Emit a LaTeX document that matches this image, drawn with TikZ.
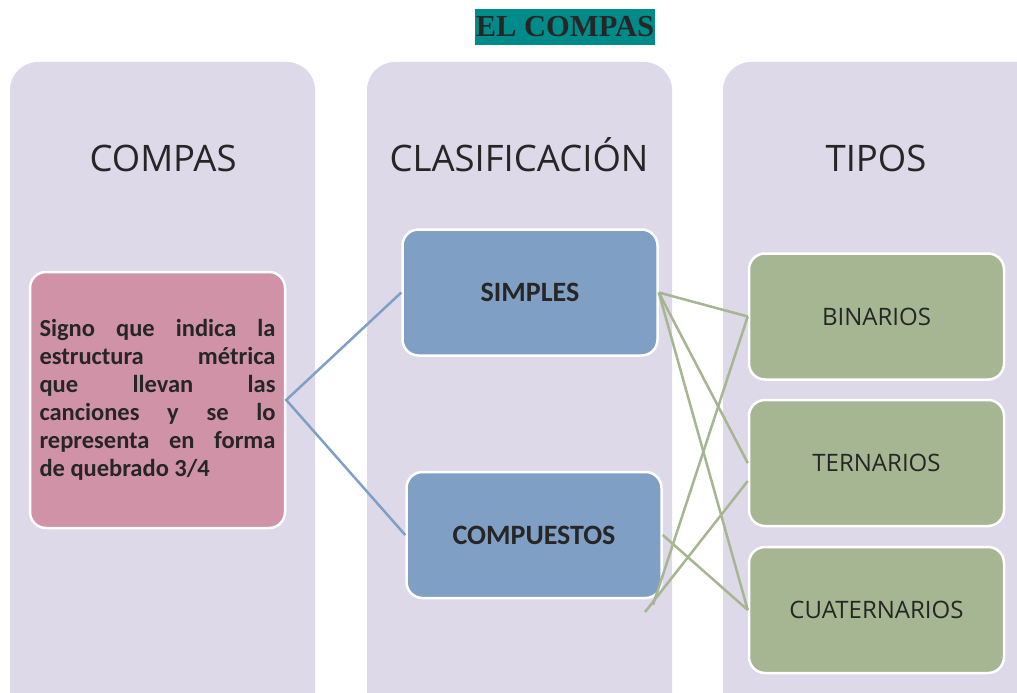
\documentclass[tikz,border=0pt]{standalone}
\usepackage{fontspec}
\setmainfont{Open Sans}
\newfontfamily\titlefont{Liberation Serif}
\newfontfamily\boxfont{Carlito}
\definecolor{lilac}{HTML}{DDD9E8}
\definecolor{tealtitle}{HTML}{008B8B}
\definecolor{pinkfill}{HTML}{D092A7}
\definecolor{bluefill}{HTML}{809FC5}
\definecolor{greenfill}{HTML}{A6B592}
\definecolor{inkgray}{HTML}{262626}

\begin{document}
\begin{tikzpicture} [x=1pt, y=-1pt,
    colbg/.style={fill=lilac, rounded corners=28pt},
    head/.style={font=\fontsize{36.5}{42}\selectfont, text=inkgray, anchor=base},
    box/.style={draw=white, line width=2.5pt, rounded corners=16pt, minimum width=255pt, minimum height=126pt, text=inkgray},
    pinkbox/.style={box, fill=pinkfill, minimum height=256pt, text width=236pt, align=justify, font=\boxfont\bfseries\fontsize{24.5}{28}\selectfont},
    bluebox/.style={box, fill=bluefill, font=\boxfont\bfseries\fontsize{28}{32}\selectfont},
    greenbox/.style={box, fill=greenfill, font=\fontsize{24}{28}\selectfont},
    blueline/.style={draw=bluefill, line width=2.5pt},
    greenline/.style={draw=greenfill, line width=2.5pt}
  ]

\clip (0,0) rectangle (1017,693);
\useasboundingbox (0,0) rectangle (1017,693);

% columns
\fill[colbg] (10,62) rectangle (315,730);
\fill[colbg] (367,62) rectangle (672,730);
\fill[colbg] (723,62) rectangle (1060,730);

\node[fill=tealtitle, text=inkgray, inner sep=0pt, minimum width=180pt, minimum height=36pt, font=\titlefont\bfseries\fontsize{30.5}{36}\selectfont] (title) at (565,27) {EL COMPAS};

\node[head] (hcompas) at (163,171) {COMPAS};
\node[head] (hclasif) at (519,171) {CLASIFICACIÓN};
\node[head] (htipos) at (876,171) {TIPOS};

\node[pinkbox] (signo) at (157.5,400) {Signo que indica la\linebreak estructura métrica\linebreak que llevan las\linebreak canciones y se lo\linebreak representa en forma\linebreak de quebrado 3/4};

\node[bluebox] (simples) at (530,292.5) {SIMPLES};
\node[bluebox] (compuestos) at (534,535) {COMPUESTOS};

\node[greenbox] (binarios) at (876.5,316.5) {BINARIOS};
\node[greenbox] (ternarios) at (876.5,463) {TERNARIOS};
\node[greenbox] (cuaternarios) at (876.5,610) {CUATERNARIOS};

\coordinate (endb) at (653,605);
\coordinate (endt) at (645,612);

\draw[blueline] (simples.west) -- (signo.east) -- (compuestos.west);

\draw[greenline] (simples.east) -- (binarios.west);
\draw[greenline] (simples.east) -- (ternarios.west);
\draw[greenline] (simples.east) -- (cuaternarios.west);
\draw[greenline] (compuestos.east) -- (cuaternarios.west);
\draw[greenline] (binarios.west) -- (endb);
\draw[greenline] ([yshift=-18pt]ternarios.west) -- (endt);

\end{tikzpicture}
\end{document}
